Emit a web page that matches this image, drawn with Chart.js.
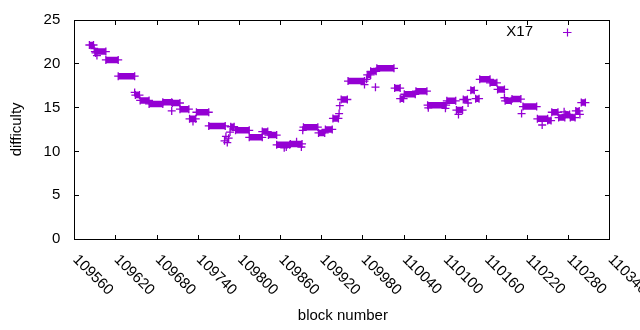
<!DOCTYPE html>
<html>
<head>
<meta charset="utf-8">
<script src="https://cdn.jsdelivr.net/npm/chart.js@4/dist/chart.umd.min.js"></script>
<style>
html,body{margin:0;padding:0;background:#fff;}
#wrap{width:640px;height:330px;}
</style>
</head>
<body>
<div id="wrap"><canvas id="c" width="640" height="330"></canvas></div>
<script>
// ---- data ----
// runs of blocks sharing one difficulty: first block, last block, difficulty
const segStart = [109582,109590,109606,109624,109649,109656,109669,109689,109703,109714,109728,109738,109756,109788,109795,109815,109834,109843,109855,109875,109894,109916,109926,109937,109949,109959,109987,109992,110001,110027,110035,110041,110058,110075,110103,110117,110127,110138,110145,110151,110166,110177,110188,110198,110214,110235,110250,110256,110266,110276,110283,110291,110299];
const segEnd   = [109588,109606,109624,109648,109655,109669,109689,109702,109714,109727,109737,109756,109780,109793,109815,109834,109842,109855,109874,109892,109915,109925,109936,109945,109958,109983,109992,110000,110026,110035,110040,110057,110074,110102,110116,110126,110133,110143,110150,110166,110176,110187,110197,110211,110234,110250,110255,110265,110275,110282,110290,110296,110305];
const segDiff  = [22.1,21.35,20.4,18.55,16.4,15.8,15.4,15.6,15.5,14.8,13.7,14.45,12.9,12.8,12.4,11.6,12.25,11.85,10.75,10.85,12.75,12.1,12.5,13.75,15.9,18.0,18.7,19.1,19.45,17.2,16.0,16.5,16.85,15.25,15.75,14.7,15.9,16.95,16.0,18.2,17.8,17.05,15.75,15.95,15.1,13.7,13.5,14.45,13.85,14.2,13.85,14.6,15.55];
// single blocks off their run
const oddBlock = [109589,109591,109593,109648,109702,109733,109779,109781,109783,109785,109787,109866,109869,109884,109891,109893,109946,109947,109983,109986,109999,110076,110101,110120,110134,110187,110212,110242,110274,110297];
const oddDiff  = [21.7,21.2,20.9,16.7,14.6,13.4,11.2,11.7,11.0,11.5,12.2,10.4,10.5,11.1,10.5,12.4,14.3,15.2,17.6,18.2,17.3,14.95,14.9,14.2,15.5,16.1,14.3,13.0,14.5,14.2];
const xTicks = [109560,109620,109680,109740,109800,109860,109920,109980,110040,110100,110160,110220,110280,110340];
const yTicks = [0,5,10,15,20,25];
const seriesName = 'X17';
const xTitle = 'block number';
const yTitle = 'difficulty';

const COLOR = '#9400d3';
const FONT = '15px "Liberation Sans", Arial, sans-serif';

const runData = [];
for (let i = 0; i < segStart.length; i++) {
  runData.push({x: segStart[i], y: segDiff[i]});
  runData.push({x: segEnd[i], y: segDiff[i]});
  runData.push({x: segEnd[i] + 0.5, y: null});
}
const oddData = oddBlock.map((b, i) => ({x: b, y: oddDiff[i]}));

const frame = {
  id: 'frame',
  afterDraw(chart) {
    const ctx = chart.ctx, ca = chart.chartArea;
    const xs = chart.scales.x, ys = chart.scales.y;
    ctx.save();
    ctx.strokeStyle = '#000';
    ctx.lineWidth = 1;
    const L = Math.round(ca.left) + 0.5, R = Math.round(ca.right) + 0.5;
    const T = Math.round(ca.top) + 0.5, B = Math.round(ca.bottom) + 0.5;
    ctx.strokeRect(L, T, R - L, B - T);
    const tl = 4.5;
    ctx.beginPath();
    xTicks.forEach(v => {
      const px = Math.round(xs.getPixelForValue(v)) + 0.5;
      ctx.moveTo(px, B); ctx.lineTo(px, B - tl);
      ctx.moveTo(px, T); ctx.lineTo(px, T + tl);
    });
    yTicks.forEach(v => {
      const py = Math.round(ys.getPixelForValue(v)) + 0.5;
      ctx.moveTo(L, py); ctx.lineTo(L + tl, py);
      ctx.moveTo(R, py); ctx.lineTo(R - tl, py);
    });
    ctx.stroke();
    ctx.fillStyle = '#000';
    ctx.font = FONT;
    // y tick labels
    ctx.textAlign = 'right'; ctx.textBaseline = 'middle';
    yTicks.forEach(v => ctx.fillText(String(v), ca.left - 14, ys.getPixelForValue(v)));
    // x tick labels, rotated clockwise
    ctx.textAlign = 'left';
    xTicks.forEach(v => {
      const px = xs.getPixelForValue(v);
      ctx.save();
      ctx.translate(px + 1, ca.bottom + 18);
      ctx.rotate(Math.PI / 4);
      ctx.fillText(String(v), 0, 0);
      ctx.restore();
    });
    // axis titles
    ctx.textAlign = 'center';
    ctx.fillText(xTitle, (ca.left + ca.right) / 2 + 1, 316);
    ctx.save();
    ctx.translate(17, (ca.top + ca.bottom) / 2);
    ctx.rotate(-Math.PI / 2);
    ctx.fillText(yTitle, 0, 0);
    ctx.restore();
    // key
    ctx.textAlign = 'right';
    ctx.fillText(seriesName, 533, 32);
    ctx.strokeStyle = COLOR; ctx.lineWidth = 1.2;
    ctx.beginPath();
    ctx.moveTo(563, 32.5); ctx.lineTo(571.5, 32.5);
    ctx.moveTo(567.5, 28.5); ctx.lineTo(567.5, 36.5);
    ctx.stroke();
    ctx.restore();
  }
};

new Chart(document.getElementById('c'), {
  type: 'scatter',
  data: {
    datasets: [
      {
        label: seriesName,
        data: runData,
        showLine: true,
        spanGaps: false,
        borderColor: COLOR,
        borderWidth: 6.5,
        borderCapStyle: 'butt',
        pointStyle: 'cross',
        pointRadius: 4,
        pointBorderWidth: 1.3,
        pointBorderColor: COLOR,
        pointBackgroundColor: COLOR,
        tension: 0
      },
      {
        label: seriesName,
        data: oddData,
        showLine: false,
        pointStyle: 'cross',
        pointRadius: 4,
        pointBorderWidth: 1.3,
        pointBorderColor: COLOR,
        pointBackgroundColor: COLOR
      }
    ]
  },
  options: {
    responsive: false,
    animation: false,
    devicePixelRatio: 1,
    layout: {padding: {left: 74.3, right: 30.6, top: 19.5, bottom: 90.7}},
    plugins: {legend: {display: false}, tooltip: {enabled: false}},
    scales: {
      x: {type: 'linear', display: false, min: xTicks[0], max: xTicks[xTicks.length - 1]},
      y: {type: 'linear', display: false, min: yTicks[0], max: yTicks[yTicks.length - 1]}
    }
  },
  plugins: [frame]
});
</script>
</body>
</html>
